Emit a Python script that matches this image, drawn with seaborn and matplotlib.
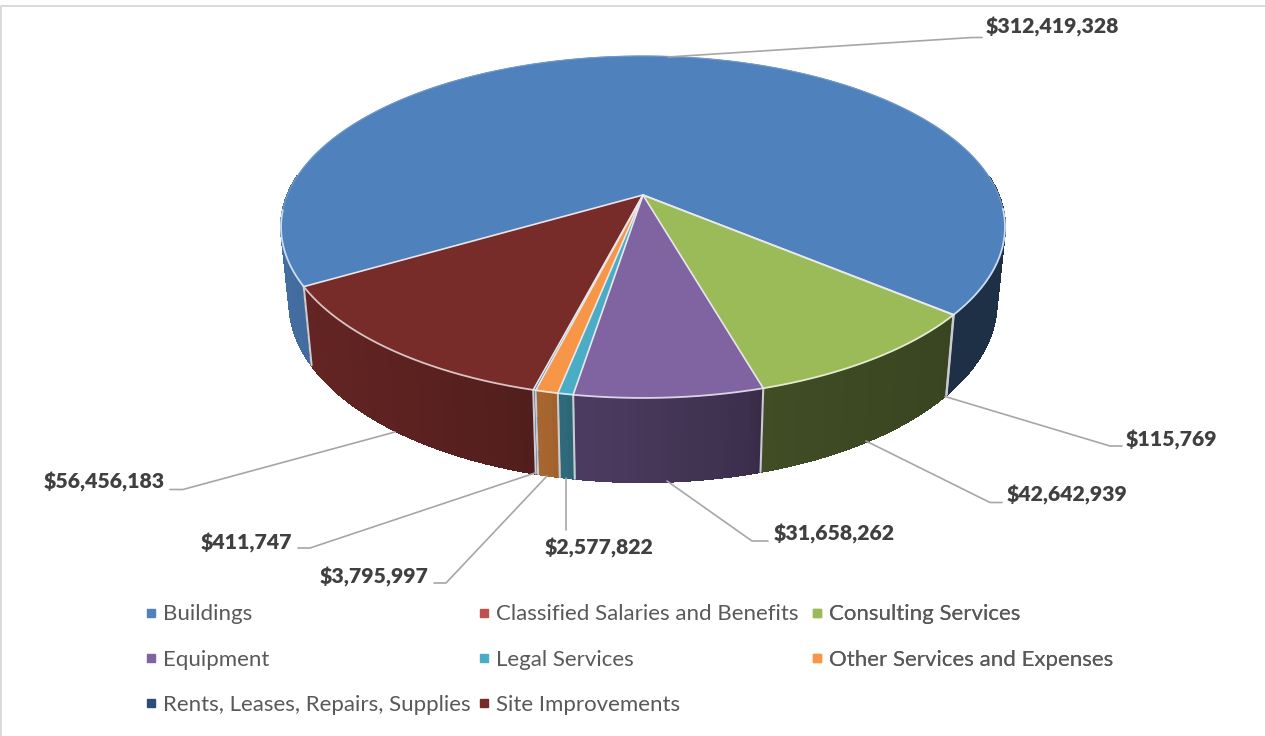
import numpy as np
import seaborn as sns
import matplotlib
matplotlib.use("Agg")
import matplotlib.pyplot as plt
from matplotlib.lines import Line2D

categories = ["Buildings", "Classified Salaries and Benefits", "Consulting Services",
              "Equipment", "Legal Services", "Other Services and Expenses",
              "Rents, Leases, Repairs, Supplies", "Site Improvements"]
amounts = [312419328, 115769, 42642939, 31658262, 2577822, 3795997, 411747, 56456183]
value_labels = ["$312,419,328", "$115,769", "$42,642,939", "$31,658,262",
                "$2,577,822", "$3,795,997", "$411,747", "$56,456,183"]
colors = ["#4F81BD", "#C0504D", "#9BBB59", "#8064A2",
          "#4BACC6", "#F79646", "#2C4D75", "#772C2A"]

sns.set_theme(style="white")
plt.rcParams["font.family"] = ["Lato", "DejaVu Sans"]

# pie geometry in pixels of the figure
CX, CY = 643, 195
A, B, K = 355.6, 165.0, 0.187
WALL_X, WALL_Y, WALL_DY = 0.977, 1.05, 74

# leader line points and text anchor for each label
leaders = [
    ([(668, 57), (972, 37.5), (982, 37.5)], (986, 27, "left")),
    ([(945, 396.5), (1110, 446), (1122, 446)], (1126, 440, "left")),
    ([(866, 441), (990, 502.5), (1002, 502.5)], (1006.5, 495, "left")),
    ([(667, 481), (752, 541), (768, 541)], (773.5, 534, "left")),
    ([(566, 478), (566, 530)], (599, 548, "center")),
    ([(547, 476), (446, 583), (434, 583)], (428, 577, "right")),
    ([(535, 473), (310, 548), (298, 548)], (292.5, 543, "right")),
    ([(395, 432), (183, 489.5), (170, 489.5)], (164.5, 482, "right")),
]


def top_rim(theta):
    w = 1 + K * np.sin(theta)
    return CX + A * np.cos(theta) / w, CY - B * np.sin(theta) / w


def bottom_rim(theta):
    x, y = top_rim(theta)
    return CX + WALL_X * (x - CX), CY + WALL_DY + WALL_Y * (y - CY)


def rgb(color):
    return np.array(sns.color_palette([color])[0])


def shade(color, x):
    f = np.interp(x, [281, 550, 566, 620, 750, 770, 950],
                  [0.85, 0.67, 0.6, 0.57, 0.47, 0.41, 0.37])
    return tuple(rgb(color) * f)


def tint(color, amount):
    return tuple(rgb(color) * (1 - amount) + amount)


fig = plt.figure(figsize=(12.65, 7.36), dpi=100)
ax = fig.add_axes([0, 0, 1, 1])
ax.set_xlim(0, 1265)
ax.set_ylim(736, 0)
ax.axis("off")

# chart frame
ax.plot([1, 1, 1265], [736, 5.5, 5.5], color="#D9D9D9", lw=1.4)

# slice angles, clockwise from the start angle
start = np.deg2rad(210.2)
edges = start - 2 * np.pi * np.concatenate([[0], np.cumsum(amounts)]) / np.sum(amounts)

# side walls
for i, color in enumerate(colors):
    n = max(2, int(np.degrees(edges[i] - edges[i + 1])))
    th = np.linspace(edges[i], edges[i + 1], n + 1)
    for t0, t1 in zip(th[:-1], th[1:]):
        if np.sin((t0 + t1) / 2) > 0.12:
            continue
        x0, y0 = top_rim(np.array([t0, t1]))
        x1, y1 = bottom_rim(np.array([t1, t0]))
        c = shade(color, x0.mean())
        ax.fill(np.r_[x0, x1], np.r_[y0, y1], color=c, lw=0.8, antialiased=False, zorder=2)
        ax.plot(x1, y1, color=c, lw=1.0, zorder=2)

for t in edges[:-1]:
    if np.sin(t) < 0:
        xa, ya = top_rim(t)
        xb, yb = bottom_rim(t)
        ax.plot([xa, xb], [ya, yb], color="#C9CBD3", lw=1.5, zorder=3)

# top faces
for i, color in enumerate(colors):
    n = max(2, int(np.degrees(edges[i] - edges[i + 1])))
    th = np.linspace(edges[i], edges[i + 1], n + 1)
    x, y = top_rim(th)
    ax.fill(np.r_[CX, x], np.r_[CY, y], facecolor=color, edgecolor=color, lw=0.5, zorder=4)

# rim, paler along the front of the pie
for i, color in enumerate(colors):
    th = np.linspace(edges[i], edges[i + 1], 400)
    x, y = top_rim(th)
    front = np.sin(th) < -0.08
    ax.plot(x, np.where(front, np.nan, y), color=tint(color, 0.2), lw=0.8, zorder=5)
    ax.plot(x, np.where(front, y, np.nan), color=tint(color, 0.72), lw=1.3, zorder=5)

# radial edges
for t in edges[:-1]:
    xa, ya = top_rim(t)
    ax.plot([CX, xa], [CY, ya], color="#E8E8EC", lw=1.2, zorder=5)

# leader lines and value labels
for (pts, (tx, ty, ha)), label in zip(leaders, value_labels):
    xs, ys = zip(*pts)
    ax.plot(xs, ys, color="#A6A6A6", lw=1.2, zorder=6)
    ax.text(tx, ty, label, ha=ha, va="center", fontsize=15.3, fontweight="heavy",
            color="#404040", zorder=7)

# legend, three columns laid out by row
fs = 16
px = 0.72
for col, x_left in enumerate([147, 480, 813]):
    idx = list(range(col, len(categories), 3))
    handles = [Line2D([], [], ls="", marker="s", ms=8 * px, color=colors[i]) for i in idx]
    ax.legend(handles, [categories[i] for i in idx], loc="upper left",
              bbox_to_anchor=(x_left, 604.5), bbox_transform=ax.transData,
              frameon=False, fontsize=fs, labelcolor="#595959", borderpad=0,
              borderaxespad=0, handlelength=8 * px / fs, handletextpad=8 * px / fs,
              labelspacing=1.13)
    ax.add_artist(ax.get_legend())

fig.savefig("out.png", dpi=100, facecolor="white")
